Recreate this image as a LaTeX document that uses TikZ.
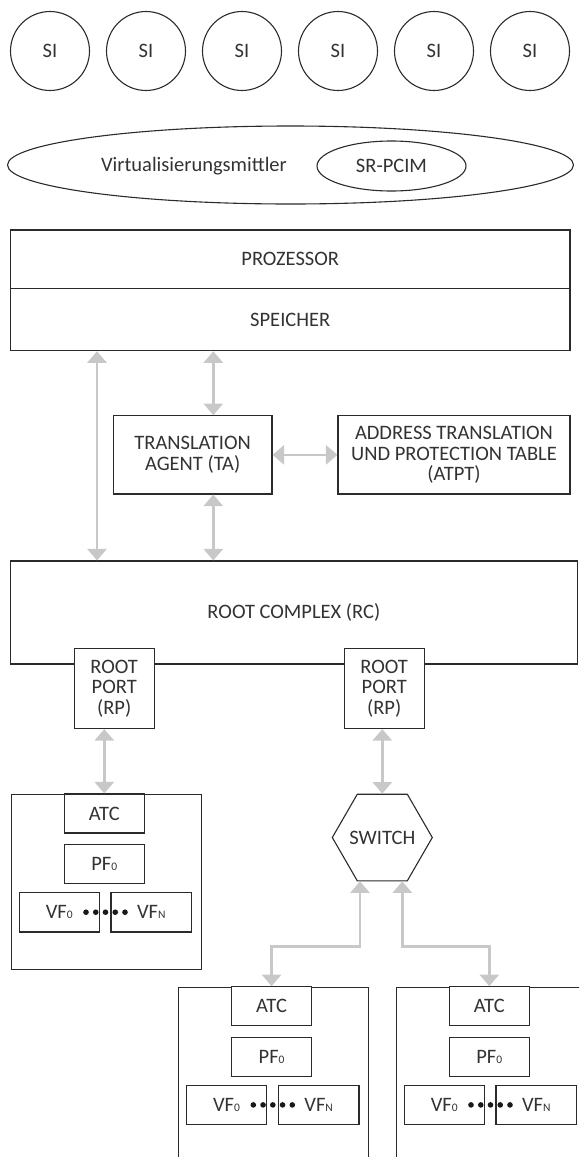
\documentclass[tikz,border=0pt]{standalone}
\usepackage{fontspec}
\setmainfont{Carlito}
\usetikzlibrary{arrows.meta,shapes.geometric,calc}
\definecolor{ln}{HTML}{2B2B2B}
\definecolor{tx}{HTML}{333333}
\definecolor{ar}{HTML}{C8C8C8}
\newcommand\idx[1]{{\fontsize{11.5}{11.5}\selectfont #1}}
\newcommand\pcidev[4]{%
  \node[box, anchor=north west, minimum width=190pt, minimum height=#4pt] (#1) at (#2,#3) {};
  \node[box, minimum width=80pt, minimum height=39pt] (#1atc) at (#2+93.3,#3+19.5) {ATC};
  \node[box, minimum width=80pt, minimum height=39pt] (#1pf) at (#2+93.3,#3+70) {PF\idx{0}};
  \node[box, minimum width=80.3pt, minimum height=39.5pt] (#1vfa) at (#2+48.2,#3+118.2) {VF\idx{0}};
  \node[box, minimum width=80.7pt, minimum height=39.5pt] (#1vfb) at (#2+140.35,#3+118.2) {VF\idx{N}};
  \foreach \k in {0,...,4} \fill[black!90] (#2+75+9.75*\k, #3+118.2) circle (2.8pt);
}
\begin{document}
\begin{tikzpicture}[x=1pt,y=-1pt,
  every node/.style={font=\fontsize{20.5}{20.5}\selectfont, text=tx},
  box/.style={draw=ln, line width=1.1pt, fill=white, inner sep=0pt, align=center},
  conn/.style={draw=ar, line width=2.7pt, {Triangle[width=19pt,length=11.5pt]}-{Triangle[width=19pt,length=11.5pt]}},
]
\useasboundingbox (0,0) rectangle (579,1157);
\clip (0,0) rectangle (579,1157);

% system images
\foreach \i in {0,...,5} \node[box, circle, minimum size=79pt] (si\i) at (50+96*\i, 51) {SI};

% virtualization intermediary
\node[box, ellipse, minimum width=566pt, minimum height=78pt] (vm) at (290.5,165) {};
\node (vmtext) at (194,166) {Virtualisierungsmittler};
\node[box, ellipse, minimum width=149pt, minimum height=50pt] (srpcim) at (391.5,166) {SR-PCIM};

% processor / memory
\node[box, minimum width=559.5pt, minimum height=58.3pt] (proz) at (290.25,259.15) {PROZESSOR};
\node[box, minimum width=559.5pt, minimum height=62.4pt] (speicher) at (290.25,319.5) {SPEICHER};

% translation agent and table
\node[box, minimum width=158.7pt, minimum height=78.3pt] (ta) at (192.65,454.85) {TRANSLATION\\AGENT (TA)};
\node[box, minimum width=232pt, minimum height=78.3pt] (atpt) at (454,454.85) {ADDRESS TRANSLATION\\UND PROTECTION TABLE\\(ATPT)};

% root complex and ports
\node[box, minimum width=567.2pt, minimum height=103pt] (rc) at (293.9,612.5) {ROOT COMPLEX (RC)};
\node[box, minimum width=80.3pt, minimum height=80.3pt] (rp1) at (114.2,688.4) {ROOT\\PORT\\(RP)};
\node[box, minimum width=80.3pt, minimum height=80.3pt] (rp2) at (384.2,688.4) {ROOT\\PORT\\(RP)};

% switch
\node[box, regular polygon, regular polygon sides=6, minimum size=100pt, label=center:SWITCH] (sw) at (382.3,837.5) {};

% devices
\pcidev{da}{11}{794}{175}
\pcidev{db}{178.3}{986.7}{200}
\pcidev{dc}{396}{986.7}{200}

% connectors
\coordinate (la) at (97,0);
\coordinate (ma) at (213.3,0);
\draw[conn] (speicher.south -| la) -- (rc.north -| la);
\draw[conn] (speicher.south -| ma) -- (ta.north -| ma);
\draw[conn] (ta.south -| ma) -- (rc.north -| ma);
\draw[conn] (ta.east) -- (atpt.west);
\draw[conn] (rp1.south -| daatc.north) -- (daatc.north);
\draw[conn] (rp2.south -| sw.north) -- (sw.north);
\draw[conn] ($(sw.south)+(-22.3,0)$) -- ++(0,65.3) -| (dbatc.north);
\draw[conn] ($(sw.south)+(20,0)$) -- ++(0,65.3) -| (dcatc.north);
\end{tikzpicture}
\end{document}
